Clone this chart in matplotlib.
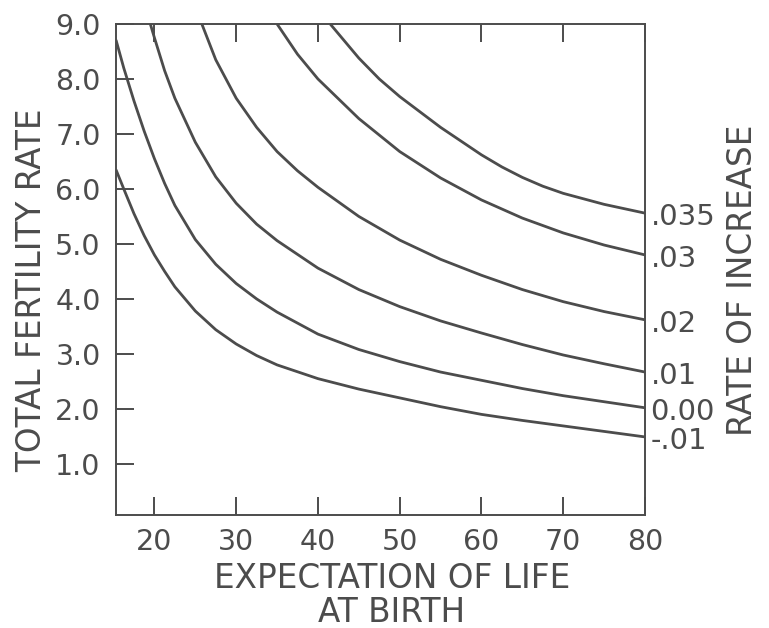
import matplotlib
matplotlib.use("Agg")
import matplotlib.pyplot as plt

# ---- data ----
rate_labels = [".035", ".03", ".02", ".01", "0.00", "-.01"]

x_035 = [41.5, 45, 47.5, 50, 55, 60, 62.5, 65, 67.5, 70, 75, 80]
y_035 = [9.0, 8.38, 8.0, 7.68, 7.12, 6.62, 6.40, 6.21, 6.05, 5.92, 5.72, 5.56]

x_030 = [35, 37.5, 40, 45, 50, 55, 60, 65, 70, 75, 80]
y_030 = [9.0, 8.45, 8.0, 7.28, 6.68, 6.20, 5.80, 5.47, 5.20, 4.98, 4.80]

x_020 = [25.8, 27.5, 30, 32.5, 35, 37.5, 40, 45, 50, 55, 60, 65, 70, 75, 80]
y_020 = [9.0, 8.35, 7.65, 7.12, 6.68, 6.33, 6.03, 5.50, 5.07, 4.72, 4.43, 4.17, 3.95, 3.77, 3.62]

x_010 = [19.5, 20, 21.25, 22.5, 25, 27.5, 30, 32.5, 35, 40, 45, 50, 55, 60, 65, 70, 75, 80]
y_010 = [9.0, 8.75, 8.15, 7.65, 6.85, 6.22, 5.74, 5.36, 5.06, 4.56, 4.17, 3.86, 3.60, 3.38, 3.17, 2.98, 2.82, 2.67]

x_000 = [15.3, 16.25, 17.5, 18.75, 20, 21.25, 22.5, 25, 27.5, 30, 32.5, 35, 40, 45, 50, 55, 60, 65, 70, 75, 80]
y_000 = [8.71, 8.20, 7.60, 7.05, 6.55, 6.10, 5.70, 5.08, 4.63, 4.28, 4.00, 3.76, 3.36, 3.08, 2.86, 2.67, 2.52, 2.37, 2.24, 2.13, 2.02]

x_m01 = [15.3, 16.25, 17.5, 18.75, 20, 21.25, 22.5, 25, 27.5, 30, 32.5, 35, 40, 45, 50, 55, 60, 65, 70, 75, 80]
y_m01 = [6.35, 6.00, 5.55, 5.15, 4.80, 4.50, 4.22, 3.78, 3.44, 3.18, 2.97, 2.80, 2.55, 2.36, 2.20, 2.04, 1.90, 1.79, 1.69, 1.59, 1.49]

x_ticks = [20, 30, 40, 50, 60, 70, 80]
y_ticks = [1, 2, 3, 4, 5, 6, 7, 8, 9]
y_ticklabels = ["1.0", "2.0", "3.0", "4.0", "5.0", "6.0", "7.0", "8.0", "9.0"]

# ---- drawing ----
plt.rcParams['font.family'] = ['DejaVu Sans']
ink = "#4c4c4c"

fig = plt.figure(figsize=(7.69, 6.28), dpi=100)
ax = fig.add_axes([116/769, 1-515/628, (645-116)/769, (515-24)/628])

series = [(x_035, y_035), (x_030, y_030), (x_020, y_020),
          (x_010, y_010), (x_000, y_000), (x_m01, y_m01)]
for (xs, ys), lab in zip(series, rate_labels):
    ax.plot(xs, ys, color=ink, lw=2.0, solid_joinstyle='round', solid_capstyle='butt')
    ax.annotate(lab, xy=(xs[-1], ys[-1]), xytext=(4, -3), textcoords='offset points',
                ha='left', va='center', fontsize=21, color=ink, annotation_clip=False)

ax.set_xlim(15.3, 80)
ax.set_ylim(0.07, 9.0)
ax.set_xticks(x_ticks)
ax.set_xticklabels([str(v) for v in x_ticks])
ax.set_yticks(y_ticks)
ax.set_yticklabels(y_ticklabels)
ax.tick_params(axis='both', direction='in', length=13, width=1.4, color=ink,
               labelcolor=ink, labelsize=20.5)
ax.tick_params(axis='x', top=True, pad=9)
ax.tick_params(axis='y', pad=11)
for s in ax.spines.values():
    s.set_color(ink)
    s.set_linewidth(1.4)

fig.text(32/769, 1-290/628, "TOTAL FERTILITY RATE", rotation=90, ha='center', va='center',
         fontsize=23.5, color=ink)
fig.text(392/769, 1-579/628, "EXPECTATION OF LIFE", ha='center', va='center',
         fontsize=23.5, color=ink)
fig.text(392/769, 1-613/628, "AT BIRTH", ha='center', va='center',
         fontsize=23.5, color=ink)
fig.text(742/769, 1-280/628, "RATE OF INCREASE", rotation=90, ha='center', va='center',
         fontsize=23.5, color=ink)

fig.savefig("out.png", dpi=100, facecolor='white')
